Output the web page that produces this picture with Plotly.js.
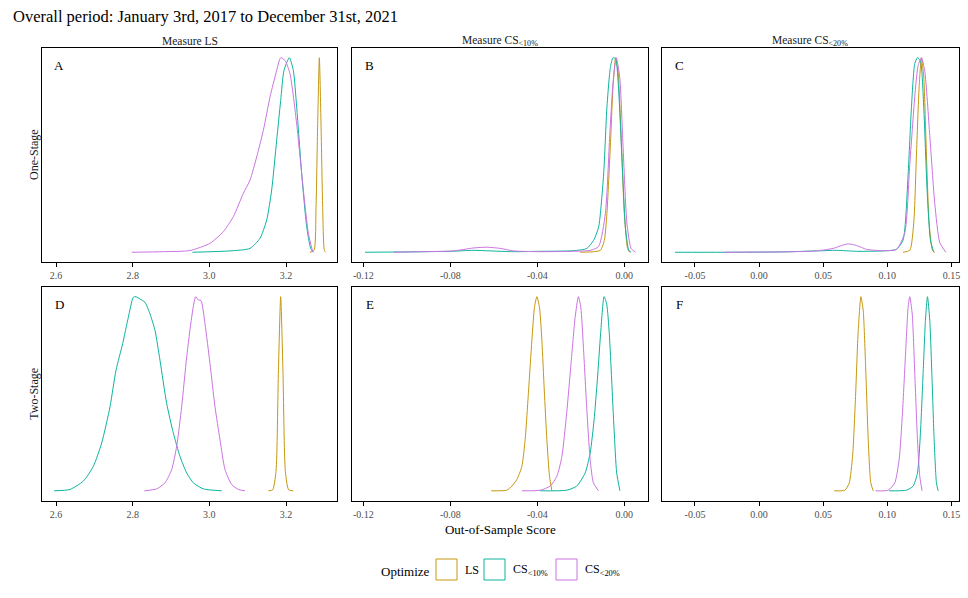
<!DOCTYPE html>
<html>
<head>
<meta charset="utf-8">
<script src="https://cdn.plot.ly/plotly-3.0.1.min.js"></script>
<style>html,body{margin:0;padding:0;background:#fff;}#chart{width:968px;height:598px;}</style>
</head>
<body>
<div id="chart"></div>
<script>
// ---- Data (scaled densities) ----
const seriesNames = ["LS", "CS<sub>&lt;10%</sub>", "CS<sub>&lt;20%</sub>"];
const seriesColors = ["#C5980F", "#0CB39E", "#CB74E1"];
const panelLetters = ["A", "B", "C", "D", "E", "F"];
const stripLabels = ["Measure LS", "Measure CS<sub>&lt;10%</sub>", "Measure CS<sub>&lt;20%</sub>"];
const rowLabels = ["One-Stage", "Two-Stage"];
const ticksLS = [2.6, 2.8, 3.0, 3.2];
const tickTextLS = ["2.6", "2.8", "3.0", "3.2"];
const ticksCS10 = [-0.12, -0.08, -0.04, 0.00];
const tickTextCS10 = ["-0.12", "-0.08", "-0.04", "0.00"];
const ticksCS20 = [-0.05, 0.00, 0.05, 0.10, 0.15];
const tickTextCS20 = ["-0.05", "0.00", "0.05", "0.10", "0.15"];

// Panel A: One-Stage, Measure LS
const A_LS_x = [3.2626, 3.2730, 3.2783, 3.2826, 3.2870, 3.2913, 3.2957, 3.3000, 3.3035];
const A_LS_y = [0, 0.01, 0.23, 0.66, 1, 0.66, 0.23, 0.01, 0];
const A_CS10_x = [2.9557, 3.0539, 3.1061, 3.1322, 3.1496, 3.1626, 3.1757, 3.1861, 3.1948, 3.2087, 3.2191, 3.2278, 3.2409, 3.2539, 3.2643, 3.2713];
const A_CS10_y = [0, 0.007, 0.02, 0.072, 0.166, 0.32, 0.576, 0.78, 0.935, 1, 0.935, 0.747, 0.405, 0.132, 0.02, 0];
const A_CS20_x = [2.7974, 2.8800, 2.9496, 3.0017, 3.0365, 3.0626, 3.0887, 3.1061, 3.1235, 3.1409, 3.1583, 3.1757, 3.1861, 3.1974, 3.2104, 3.2278, 3.2452, 3.2583, 3.2696];
const A_CS20_y = [0, 0.003, 0.009, 0.046, 0.106, 0.183, 0.303, 0.371, 0.49, 0.627, 0.798, 0.935, 1, 0.986, 0.918, 0.66, 0.32, 0.097, 0.003];

// Panel B: One-Stage, Measure CS<10%
const B_LS_x = [-0.0202, -0.0141, -0.0110, -0.0092, -0.0080, -0.0064, -0.0052, -0.0040, -0.0028, -0.0015, 0.0000, 0.0015, 0.0025];
const B_LS_y = [0, 0.003, 0.01, 0.06, 0.2, 0.55, 0.85, 1, 0.92, 0.6, 0.2, 0.02, 0];
const B_CS10_x = [-0.1192, -0.1000, -0.0801, -0.0694, -0.0617, -0.0509, -0.0387, -0.0233, -0.0172, -0.0141, -0.0118, -0.0095, -0.0080, -0.0064, -0.0052, -0.0040, -0.0026, -0.0011, 0.0005, 0.0020, 0.0031];
const B_CS10_y = [0, 0.002, 0.005, 0.01, 0.007, 0.003, 0.005, 0.008, 0.02, 0.062, 0.13, 0.403, 0.745, 0.95, 1, 0.995, 0.832, 0.49, 0.13, 0.012, 0];
const B_CS20_x = [-0.1062, -0.0924, -0.0786, -0.0694, -0.0632, -0.0571, -0.0509, -0.0387, -0.0233, -0.0156, -0.0118, -0.0087, -0.0067, -0.0052, -0.0037, -0.0021, -0.0006, 0.0012, 0.0031, 0.0051];
const B_CS20_y = [0, 0.003, 0.007, 0.022, 0.026, 0.02, 0.007, 0.003, 0.005, 0.01, 0.03, 0.2, 0.6, 0.87, 1, 0.9, 0.55, 0.15, 0.02, 0];

// Panel C: One-Stage, Measure CS<20%
const C_LS_x = [0.1123, 0.1175, 0.1206, 0.1227, 0.1248, 0.1266, 0.1284, 0.1305, 0.1326, 0.1352, 0.1370];
const C_LS_y = [0, 0.01, 0.15, 0.5, 0.85, 1, 0.9, 0.5, 0.15, 0.01, 0];
const C_CS10_x = [-0.0656, -0.0279, 0.0188, 0.0448, 0.0604, 0.0760, 0.0968, 0.1071, 0.1123, 0.1162, 0.1188, 0.1214, 0.1235, 0.1258, 0.1284, 0.1310, 0.1336, 0.1362];
const C_CS10_y = [0, 0, 0.002, 0.007, 0.01, 0.005, 0.007, 0.015, 0.063, 0.4, 0.745, 0.97, 1, 0.985, 0.745, 0.32, 0.063, 0];
const C_CS20_x = [-0.0279, 0.0188, 0.0448, 0.0578, 0.0643, 0.0695, 0.0760, 0.0838, 0.0968, 0.1071, 0.1136, 0.1175, 0.1214, 0.1240, 0.1266, 0.1292, 0.1331, 0.1370, 0.1409, 0.1456];
const C_CS20_y = [0, 0.002, 0.007, 0.02, 0.035, 0.043, 0.035, 0.015, 0.008, 0.015, 0.1, 0.45, 0.8, 0.96, 1, 0.93, 0.6, 0.25, 0.05, 0];

// Panel D: Two-Stage, Measure LS
const D_LS_x = [3.1539, 3.1652, 3.1739, 3.1800, 3.1861, 3.1922, 3.1983, 3.2070, 3.2191];
const D_LS_y = [0, 0.005, 0.1, 0.6, 1, 0.6, 0.1, 0.005, 0];
const D_CS10_x = [2.5950, 2.6365, 2.6713, 2.6974, 2.7191, 2.7409, 2.7565, 2.7739, 2.7887, 2.8017, 2.8087, 2.8191, 2.8322, 2.8452, 2.8583, 2.8713, 2.8887, 2.9061, 2.9235, 2.9409, 2.9583, 2.9843, 3.0322];
const D_CS10_y = [0, 0.007, 0.05, 0.126, 0.246, 0.433, 0.621, 0.758, 0.894, 0.997, 1, 0.988, 0.971, 0.911, 0.826, 0.672, 0.45, 0.297, 0.177, 0.092, 0.041, 0.01, 0];
const D_CS20_x = [2.8304, 2.8626, 2.8843, 2.9017, 2.9148, 2.9278, 2.9409, 2.9539, 2.9643, 2.9713, 2.9783, 2.9887, 3.0017, 3.0148, 3.0278, 3.0409, 3.0583, 3.0757, 3.0930];
const D_CS20_y = [0, 0.01, 0.041, 0.109, 0.229, 0.433, 0.689, 0.894, 1, 0.983, 0.98, 0.86, 0.655, 0.433, 0.263, 0.109, 0.032, 0.007, 0];

// Panel E: Two-Stage, Measure CS<10%
const E_LS_x = [-0.0612, -0.0540, -0.0517, -0.0494, -0.0471, -0.0456, -0.0440, -0.0425, -0.0413, -0.0402, -0.0390, -0.0379, -0.0368, -0.0356, -0.0344, -0.0333];
const E_LS_y = [0, 0.003, 0.024, 0.058, 0.126, 0.263, 0.519, 0.775, 0.945, 1, 0.945, 0.775, 0.519, 0.263, 0.075, 0];
const E_CS10_x = [-0.0387, -0.0265, -0.0219, -0.0180, -0.0157, -0.0139, -0.0124, -0.0109, -0.0093, -0.0081, -0.0069, -0.0058, -0.0047, -0.0035, -0.0020];
const E_CS10_y = [0, 0.003, 0.024, 0.092, 0.195, 0.365, 0.57, 0.809, 1, 0.962, 0.809, 0.57, 0.314, 0.092, 0];
const E_CS20_x = [-0.0471, -0.0387, -0.0341, -0.0310, -0.0287, -0.0265, -0.0245, -0.0226, -0.0211, -0.0200, -0.0188, -0.0173, -0.0157, -0.0142, -0.0119];
const E_CS20_y = [0, 0.003, 0.024, 0.075, 0.177, 0.4, 0.655, 0.894, 1, 0.945, 0.74, 0.433, 0.16, 0.041, 0];

// Panel F: Two-Stage, Measure CS<20%
const F_LS_x = [0.0586, 0.0669, 0.0703, 0.0729, 0.0752, 0.0773, 0.0794, 0.0812, 0.0830, 0.0851, 0.0871, 0.0890];
const F_LS_y = [0, 0.003, 0.041, 0.177, 0.485, 0.826, 1, 0.928, 0.655, 0.263, 0.041, 0];
const F_CS10_x = [0.1014, 0.1149, 0.1201, 0.1235, 0.1258, 0.1279, 0.1297, 0.1313, 0.1331, 0.1349, 0.1365, 0.1383, 0.1396];
const F_CS10_y = [0, 0.003, 0.024, 0.092, 0.297, 0.604, 0.877, 1, 0.877, 0.57, 0.263, 0.041, 0];
const F_CS20_x = [0.0908, 0.1006, 0.1058, 0.1092, 0.1118, 0.1142, 0.1162, 0.1175, 0.1194, 0.1214, 0.1235, 0.1253, 0.1271];
const F_CS20_y = [0, 0.003, 0.041, 0.16, 0.4, 0.706, 0.945, 1, 0.911, 0.604, 0.263, 0.075, 0];

// ---- Build ----
const panels = [
  [[A_LS_x, A_LS_y], [A_CS10_x, A_CS10_y], [A_CS20_x, A_CS20_y]],
  [[B_LS_x, B_LS_y], [B_CS10_x, B_CS10_y], [B_CS20_x, B_CS20_y]],
  [[C_LS_x, C_LS_y], [C_CS10_x, C_CS10_y], [C_CS20_x, C_CS20_y]],
  [[D_LS_x, D_LS_y], [D_CS10_x, D_CS10_y], [D_CS20_x, D_CS20_y]],
  [[E_LS_x, E_LS_y], [E_CS10_x, E_CS10_y], [E_CS20_x, E_CS20_y]],
  [[F_LS_x, F_LS_y], [F_CS10_x, F_CS10_y], [F_CS20_x, F_CS20_y]]
];

const W = 968, H = 598;
const FONT = "Liberation Serif, DejaVu Serif, serif";
const colPx = [[41.7, 337.3], [352.3, 648.3], [662.3, 958.5]];
const rowPx = [[48, 262], [287, 500.5]];
const xRanges = [[2.5627, 3.3338], [-0.12506, 0.01103], [-0.07549, 0.1555]];
const tickSets = [[ticksLS, tickTextLS], [ticksCS10, tickTextCS10], [ticksCS20, tickTextCS20]];

const traces = [];
const layout = {
  width: W, height: H,
  margin: {l: 0, r: 0, t: 0, b: 0},
  paper_bgcolor: "#ffffff", plot_bgcolor: "#ffffff",
  showlegend: false,
  font: {family: FONT, color: "#000"},
  title: {
    text: "Overall period: January 3rd, 2017 to December 31st, 2021",
    x: 13 / W, xanchor: "left", xref: "paper",
    y: 1 - 16 / H, yanchor: "middle",
    font: {family: FONT, size: 16.5, color: "#000"}
  },
  annotations: [], shapes: []
};

for (let p = 0; p < 6; p++) {
  const col = p % 3, row = Math.floor(p / 3);
  const n = p + 1;
  const xa = n === 1 ? "x" : "x" + n, ya = n === 1 ? "y" : "y" + n;
  const xk = n === 1 ? "xaxis" : "xaxis" + n, yk = n === 1 ? "yaxis" : "yaxis" + n;
  layout[xk] = {
    domain: [colPx[col][0] / W, colPx[col][1] / W],
    anchor: ya, range: xRanges[col],
    showgrid: false, zeroline: false,
    showline: true, mirror: true, linecolor: "#000", linewidth: 1,
    ticks: "outside", ticklen: 4, tickwidth: 1, tickcolor: "#000",
    tickmode: "array", tickvals: tickSets[col][0], ticktext: tickSets[col][1],
    tickfont: {family: FONT, size: 10, color: "#4d4d4d"}
  };
  layout[yk] = {
    domain: [1 - rowPx[row][1] / H, 1 - rowPx[row][0] / H],
    anchor: xa, range: [-0.05, 1.05],
    showgrid: false, zeroline: false, showticklabels: false, ticks: "",
    showline: true, mirror: true, linecolor: "#000", linewidth: 1
  };
  for (let s = 0; s < 3; s++) {
    traces.push({
      type: "scatter", mode: "lines",
      x: panels[p][s][0], y: panels[p][s][1],
      xaxis: xa, yaxis: ya,
      name: seriesNames[s],
      line: {color: seriesColors[s], width: 1, shape: "spline", smoothing: 0.6},
      hoverinfo: "skip"
    });
  }
  layout.annotations.push({
    text: panelLetters[p], xref: "paper", yref: "paper",
    x: (colPx[col][0] + 17.5) / W, y: 1 - (rowPx[row][0] + 17) / H,
    xanchor: "center", yanchor: "middle", showarrow: false,
    font: {family: FONT, size: 13, color: "#000"}
  });
}
layout.xaxis5.title = {text: "Out-of-Sample Score", font: {family: FONT, size: 13, color: "#000"}, standoff: 6};

for (let c = 0; c < 3; c++) {
  layout.annotations.push({
    text: stripLabels[c], xref: "paper", yref: "paper",
    x: (colPx[c][0] + colPx[c][1]) / 2 / W, y: 1 - 41 / H,
    xanchor: "center", yanchor: "middle", showarrow: false,
    font: {family: FONT, size: 11.5, color: "#1a1a1a"}
  });
}
for (let r = 0; r < 2; r++) {
  layout.annotations.push({
    text: rowLabels[r], xref: "paper", yref: "paper",
    x: 34 / W, y: 1 - (rowPx[r][0] + rowPx[r][1]) / 2 / H,
    xanchor: "center", yanchor: "middle", showarrow: false, textangle: -90,
    font: {family: FONT, size: 12, color: "#1a1a1a"}
  });
}

// Legend (drawn with shapes + annotations to get square keys)
layout.annotations.push({
  text: "Optimize", xref: "paper", yref: "paper",
  x: 379 / W, y: 1 - 571 / H, xanchor: "left", yanchor: "middle", showarrow: false,
  font: {family: FONT, size: 13, color: "#000"}
});
const keyX = [436, 484, 556];
for (let s = 0; s < 3; s++) {
  layout.shapes.push({
    type: "rect", xref: "paper", yref: "paper",
    x0: keyX[s] / W, x1: (keyX[s] + 21) / W,
    y0: 1 - 580 / H, y1: 1 - 559 / H,
    line: {color: seriesColors[s], width: 1}, fillcolor: "#ffffff"
  });
  layout.annotations.push({
    text: seriesNames[s], xref: "paper", yref: "paper",
    x: (keyX[s] + 27) / W, y: 1 - 570 / H, xanchor: "left", yanchor: "middle", showarrow: false,
    font: {family: FONT, size: 12, color: "#000"}
  });
}

Plotly.newPlot("chart", traces, layout, {staticPlot: true, displayModeBar: false});
</script>
</body>
</html>
